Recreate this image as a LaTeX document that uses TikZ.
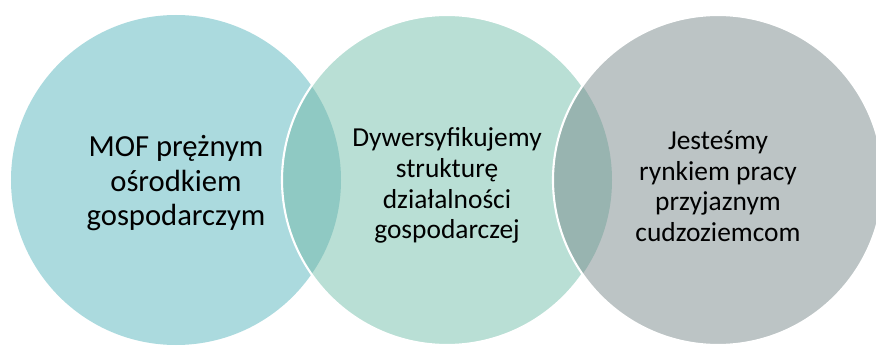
\documentclass[tikz,border=0pt]{standalone}
\usepackage{fontspec}
\setmainfont{Carlito}
\definecolor{mofblue}{HTML}{ABDADE}
\definecolor{divgreen}{HTML}{B9DFD5}
\definecolor{jobgrey}{HTML}{BCC4C5}
\definecolor{lensone}{HTML}{8FC9C3}
\definecolor{lenstwo}{HTML}{98B4B0}
\tikzset{
  rim/.style={draw=white,line width=1.5pt},
  bigtext/.style={align=center,font=\fontsize{21.8}{24.6}\selectfont},
  midtext/.style={align=center,font=\fontsize{19.5}{21.8}\selectfont}
}
\begin{document}
\begin{tikzpicture}
  \def\rad{4.125}
  \useasboundingbox (0,0) rectangle (21.9,8.625);
  \clip (0,0) rectangle (21.9,8.625);
  \coordinate (c1) at (4.4,4.125);
  \coordinate (c2) at (11.175,4.125);
  \coordinate (c3) at (17.95,4.125);
  \fill[mofblue] (c1) circle (\rad);
  \fill[divgreen] (c2) circle (\rad);
  \begin{scope}
    \clip (c1) circle (\rad);
    \fill[lensone] (c2) circle (\rad);
  \end{scope}
  \draw[rim] (c2) circle (\rad);
  \fill[jobgrey] (c3) circle (\rad);
  \begin{scope}
    \clip (c2) circle (\rad);
    \fill[lenstwo] (c3) circle (\rad);
  \end{scope}
  \draw[rim] (c3) circle (\rad);
  % teksty
  \node[bigtext] (mof) at ([yshift=-0.08cm]c1) {MOF prężnym\\ośrodkiem\\gospodarczym};
  \node[midtext] (dyw) at ([yshift=-0.14cm]c2) {Dywersyfikujemy\\strukturę\\działalności\\gospodarczej};
  \node[midtext] (rynek) at ([yshift=-0.16cm]c3) {Jesteśmy\\rynkiem pracy\\przyjaznym\\cudzoziemcom};
\end{tikzpicture}
\end{document}
